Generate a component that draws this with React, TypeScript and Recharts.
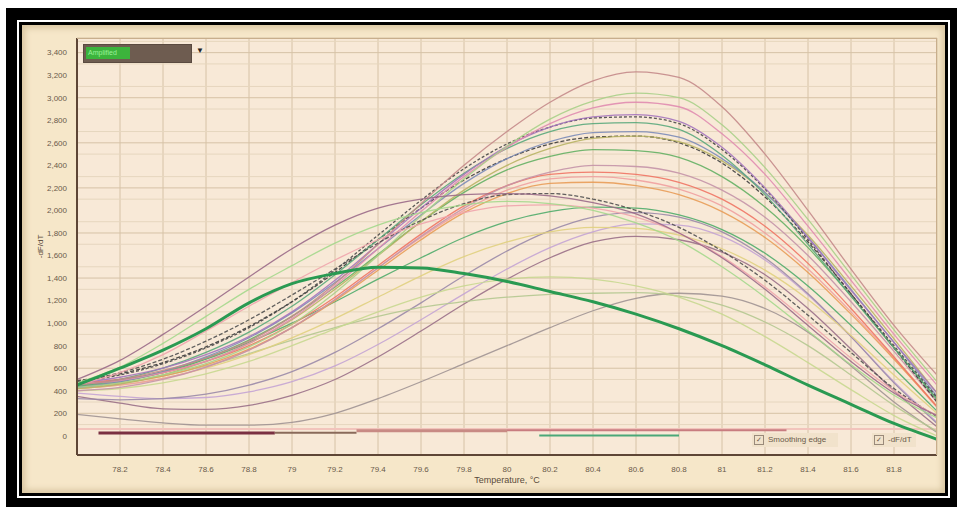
import React from 'react';
import { LineChart, Line, XAxis, YAxis, CartesianGrid, ReferenceLine } from 'recharts';

// temperature grid (°C) shared by all melt curves
const temps = [78, 78.2, 78.4, 78.6, 78.8, 79, 79.2, 79.4, 79.6, 79.8, 80, 80.2, 80.4, 80.6, 80.8, 81, 81.2, 81.4, 81.6, 81.8, 82];

const xTicks = [78.2, 78.4, 78.6, 78.8, 79, 79.2, 79.4, 79.6, 79.8, 80, 80.2, 80.4, 80.6, 80.8, 81, 81.2, 81.4, 81.6, 81.8];
const yTicks = [0, 200, 400, 600, 800, 1000, 1200, 1400, 1600, 1800, 2000, 2200, 2400, 2600, 2800, 3000, 3200, 3400];
const yMinor = [100, 300, 500, 700, 900, 1100, 1300, 1500, 1700, 1900, 2100, 2300, 2500, 2700, 2900, 3100, 3300, 3500];

// -dF/dT values per well
const wellA1 = [450, 500, 580, 690, 840, 1060, 1350, 1700, 2060, 2400, 2700, 2960, 3150, 3230, 3180, 2920, 2500, 2000, 1480, 980, 540];
const wellA2 = [430, 470, 540, 640, 790, 990, 1270, 1600, 1950, 2280, 2570, 2810, 2970, 3040, 3000, 2760, 2380, 1920, 1430, 940, 480];
const wellA3 = [460, 490, 560, 660, 820, 1040, 1330, 1660, 1990, 2300, 2560, 2770, 2910, 2960, 2920, 2680, 2320, 1860, 1380, 900, 450];
const wellA4 = [470, 520, 600, 720, 880, 1100, 1380, 1700, 2020, 2320, 2570, 2740, 2830, 2850, 2790, 2560, 2200, 1760, 1290, 830, 380];
const wellA5 = [480, 540, 640, 780, 960, 1190, 1470, 1780, 2090, 2370, 2590, 2740, 2820, 2830, 2770, 2540, 2190, 1740, 1260, 800, 340];
const wellA6 = [440, 500, 600, 740, 920, 1150, 1430, 1740, 2050, 2330, 2550, 2700, 2770, 2780, 2720, 2490, 2140, 1700, 1240, 780, 330];
const wellB1 = [430, 480, 570, 700, 870, 1090, 1360, 1660, 1960, 2240, 2460, 2610, 2690, 2700, 2650, 2460, 2160, 1760, 1300, 830, 350];
const wellB2 = [420, 460, 540, 660, 820, 1030, 1300, 1600, 1900, 2180, 2400, 2550, 2640, 2660, 2610, 2440, 2160, 1780, 1330, 860, 380];
const wellB3 = [490, 550, 650, 790, 970, 1190, 1450, 1740, 2020, 2270, 2460, 2590, 2650, 2660, 2600, 2420, 2120, 1720, 1260, 780, 300];
const wellB4 = [450, 490, 570, 690, 850, 1060, 1320, 1610, 1900, 2160, 2360, 2480, 2540, 2530, 2470, 2300, 2030, 1670, 1240, 780, 320];
const wellB5 = [400, 430, 500, 610, 760, 960, 1210, 1490, 1770, 2020, 2220, 2340, 2400, 2390, 2330, 2180, 1940, 1600, 1190, 750, 300];
const wellB6 = [470, 500, 560, 660, 800, 990, 1230, 1510, 1790, 2040, 2220, 2320, 2340, 2320, 2250, 2100, 1860, 1530, 1130, 700, 260];
const wellC1 = [440, 470, 530, 630, 770, 960, 1200, 1470, 1740, 1980, 2150, 2240, 2250, 2220, 2140, 1990, 1760, 1450, 1080, 680, 260];
const wellC2 = [420, 450, 510, 610, 760, 960, 1210, 1490, 1760, 2000, 2180, 2280, 2300, 2270, 2190, 2040, 1800, 1480, 1100, 690, 250];
const wellC3 = [500, 670, 900, 1150, 1410, 1660, 1870, 2020, 2100, 2140, 2150, 2130, 2070, 1970, 1800, 1580, 1300, 980, 660, 380, 180];
const wellC4 = [470, 610, 820, 1060, 1300, 1510, 1710, 1870, 1980, 2050, 2080, 2060, 2000, 1890, 1730, 1500, 1230, 930, 630, 360, 160];
const wellC5 = [450, 560, 720, 930, 1150, 1360, 1560, 1740, 1880, 1980, 2040, 2050, 2020, 1940, 1800, 1590, 1320, 1010, 690, 400, 180];
const wellC6 = [480, 560, 680, 840, 1030, 1250, 1480, 1710, 1910, 2060, 2140, 2150, 2100, 2000, 1850, 1640, 1380, 1070, 740, 420, 170];
const wellD1 = [430, 480, 560, 680, 830, 1000, 1190, 1390, 1580, 1760, 1900, 1990, 2030, 2020, 1960, 1830, 1620, 1330, 980, 600, 220];
const wellD2 = [420, 450, 510, 600, 720, 870, 1040, 1230, 1420, 1590, 1720, 1810, 1850, 1840, 1780, 1660, 1470, 1210, 890, 540, 200];
const wellD3 = [350, 290, 240, 235, 270, 360, 500, 700, 930, 1170, 1390, 1580, 1720, 1770, 1740, 1630, 1430, 1130, 770, 400, 80];
const wellD4 = [380, 350, 330, 340, 390, 480, 620, 810, 1030, 1260, 1480, 1670, 1810, 1880, 1870, 1770, 1560, 1250, 880, 480, 120];
const wellD5 = [330, 320, 330, 370, 450, 570, 740, 950, 1180, 1420, 1640, 1820, 1940, 1980, 1940, 1810, 1580, 1260, 880, 470, 110];
const wellD6 = [400, 420, 470, 550, 660, 800, 950, 1100, 1230, 1330, 1390, 1410, 1390, 1330, 1230, 1080, 880, 650, 410, 180, 0];
const wellE1 = [420, 460, 530, 620, 730, 850, 960, 1060, 1140, 1190, 1230, 1255, 1265, 1270, 1240, 1160, 1010, 800, 540, 270, 40];
const wellE2 = [190, 150, 115, 95, 95, 120, 200, 330, 480, 640, 800, 960, 1110, 1220, 1265, 1240, 1130, 920, 620, 300, 30];
const wellE3 = [450, 600, 760, 950, 1180, 1350, 1440, 1495, 1490, 1440, 1370, 1280, 1190, 1080, 950, 800, 630, 450, 280, 110, -30];

// flat baseline traces (temperature range, level)
const flatMaroon = [[78.1, 25], [78.92, 25]];
const flatBrown = [[78.92, 28], [79.3, 28]];
const flatRose = [[79.3, 45], [80.0, 45]];
const flatPink = [[80.0, 50], [81.3, 50]];
const flatGreen = [[80.15, 2], [80.8, 2]];
const flatBlush = [[78, 60], [82, 60]];

const toRows = (vals: number[]) => temps.map((t, i) => ({ t, v: vals[i] }));
const toFlat = (pts: number[][]) => pts.map(([t, v]) => ({ t, v }));

const wells = [
  { name: 'E2', vals: wellE2, color: '#a09494' },
  { name: 'D3', vals: wellD3, color: '#9a7088' },
  { name: 'D4', vals: wellD4, color: '#c4a4d4' },
  { name: 'D5', vals: wellD5, color: '#9a8aa8' },
  { name: 'E1', vals: wellE1, color: '#b4c890' },
  { name: 'D6', vals: wellD6, color: '#c8d890' },
  { name: 'D2', vals: wellD2, color: '#e0d080' },
  { name: 'D1', vals: wellD1, color: '#50ac6c' },
  { name: 'C2', vals: wellC2, color: '#f0a0a0' },
  { name: 'C1', vals: wellC1, color: '#e89c58' },
  { name: 'B6', vals: wellB6, color: '#f07464' },
  { name: 'B5', vals: wellB5, color: '#c494a8' },
  { name: 'B4', vals: wellB4, color: '#64b064' },
  { name: 'B3', vals: wellB3, color: '#3c3c3c', dash: '4 2' },
  { name: 'B2', vals: wellB2, color: '#b8b464' },
  { name: 'B1', vals: wellB1, color: '#7c8cb8' },
  { name: 'A6', vals: wellA6, color: '#5aa87c' },
  { name: 'A5', vals: wellA5, color: '#484848', dash: '3 2' },
  { name: 'A4', vals: wellA4, color: '#a474bc' },
  { name: 'A3', vals: wellA3, color: '#e08cb0' },
  { name: 'A2', vals: wellA2, color: '#a8d088' },
  { name: 'A1', vals: wellA1, color: '#c48a8a' },
  { name: 'C6', vals: wellC6, color: '#505050', dash: '4 2' },
  { name: 'C5', vals: wellC5, color: '#f0a4ac' },
  { name: 'C4', vals: wellC4, color: '#a4d88c' },
  { name: 'C3', vals: wellC3, color: '#9a6a88' },
];

const flats = [
  { name: 'f6', pts: flatBlush, color: '#f2c4bc', w: 2 },
  { name: 'f1', pts: flatMaroon, color: '#7a3042', w: 3 },
  { name: 'f2', pts: flatBrown, color: '#8a6a5a', w: 2 },
  { name: 'f3', pts: flatRose, color: '#c88a84', w: 3 },
  { name: 'f4', pts: flatPink, color: '#c87c80', w: 2 },
  { name: 'f5', pts: flatGreen, color: '#4aa878', w: 2 },
];

const fmt = (v: number) => v.toLocaleString('en-US');

export default function App() {
  const tickStyle = { fontSize: 8, fill: '#6a5a4a', fontFamily: 'Liberation Sans, Arial, sans-serif' };
  return (
    <div style={{ position: 'fixed', left: 0, top: 0, width: 957, height: 507, background: '#ffffff' }}>
      <div style={{ position: 'absolute', left: 6, top: 8, width: 951, height: 499, background: '#000' }} />
      <div style={{ position: 'absolute', left: 17, top: 20, width: 929, height: 474, border: '2px solid #fff' }} />
      <div style={{ position: 'absolute', left: 22, top: 25, width: 923, height: 468, background: '#f6e7c9', boxShadow: 'inset 0 0 6px 3px #d8c5a0' }} />
      <div style={{ position: 'absolute', left: 0, top: 0 }}>
        <LineChart width={957} height={507} margin={{ top: 38, right: 20, bottom: 22, left: 0 }}>
          <CartesianGrid fill="#f8e9d7" stroke="#d6c2a6" strokeWidth={1} />
          {yMinor.map((y) => (
            <ReferenceLine key={y} y={y} stroke="#e6d6be" strokeWidth={1} ifOverflow="hidden" />
          ))}
          <XAxis
            dataKey="t"
            type="number"
            domain={[78, 82]}
            ticks={xTicks}
            allowDataOverflow
            height={30}
            tick={tickStyle}
            tickLine={false}
            axisLine={{ stroke: '#5e4636', strokeWidth: 2 }}
            tickMargin={5}
            label={{ value: 'Temperature, °C', position: 'insideBottom', offset: 2, style: { fontSize: 9, fill: '#5a4a3a', fontFamily: 'Liberation Sans, Arial, sans-serif' } }}
          />
          <YAxis
            type="number"
            domain={[-170, 3530]}
            ticks={yTicks}
            allowDataOverflow
            width={77}
            tick={tickStyle}
            tickFormatter={fmt}
            tickLine={false}
            axisLine={{ stroke: '#5e4636', strokeWidth: 2 }}
            tickMargin={4}
            label={{ value: '-dF/dT', angle: -90, position: 'insideLeft', offset: 40, style: { fontSize: 8, fill: '#5a4a3a', textAnchor: 'middle', fontFamily: 'Liberation Sans, Arial, sans-serif' } }}
          />
          {flats.map((f) => (
            <Line key={f.name} data={toFlat(f.pts)} dataKey="v" type="linear" stroke={f.color} strokeWidth={f.w} dot={false} isAnimationActive={false} />
          ))}
          {wells.map((w) => (
            <Line
              key={w.name}
              data={toRows(w.vals)}
              dataKey="v"
              type="monotone"
              stroke={w.color}
              strokeWidth={1.3}
              strokeDasharray={w.dash}
              strokeOpacity={0.9}
              dot={false}
              isAnimationActive={false}
            />
          ))}
          <Line data={toRows(wellE3)} dataKey="v" type="monotone" stroke="#2a9a52" strokeWidth={3} dot={false} isAnimationActive={false} />
        </LineChart>
      </div>
      <div style={{ position: 'absolute', left: 77, top: 38, width: 859, height: 416, borderTop: '1px solid #c8ae8c', borderRight: '1px solid #c8ae8c', pointerEvents: 'none' }} />
      <div style={{ position: 'absolute', left: 83, top: 44, width: 107, height: 17, background: '#6e5c50', border: '1px solid #5a4a40' }}>
        <div style={{ position: 'absolute', left: 2, top: 2, width: 42, height: 12, background: '#3cb43c', color: '#9af09a', fontSize: 7, lineHeight: '12px', fontFamily: 'Liberation Sans, Arial, sans-serif', paddingLeft: 2 }}>
          Amplified
        </div>
      </div>
      <div style={{ position: 'absolute', left: 196, top: 46, fontSize: 8, color: '#222', fontFamily: 'Liberation Sans, Arial, sans-serif' }}>▼</div>
      <div style={{ position: 'absolute', left: 752, top: 433, width: 86, height: 14, background: '#f1e2cb', fontSize: 8, color: '#6a5a4a', fontFamily: 'Liberation Sans, Arial, sans-serif', lineHeight: '14px' }}>
        <span style={{ display: 'inline-block', width: 8, height: 8, border: '1px solid #9a8a7a', marginRight: 4, marginLeft: 2, verticalAlign: 'middle', fontSize: 7, lineHeight: '8px', textAlign: 'center' }}>✓</span>
        Smoothing edge
      </div>
      <div style={{ position: 'absolute', left: 872, top: 433, width: 44, height: 14, background: '#f1e2cb', fontSize: 8, color: '#6a5a4a', fontFamily: 'Liberation Sans, Arial, sans-serif', lineHeight: '14px' }}>
        <span style={{ display: 'inline-block', width: 8, height: 8, border: '1px solid #9a8a7a', marginRight: 4, marginLeft: 2, verticalAlign: 'middle', fontSize: 7, lineHeight: '8px', textAlign: 'center' }}>✓</span>
        -dF/dT
      </div>
    </div>
  );
}
